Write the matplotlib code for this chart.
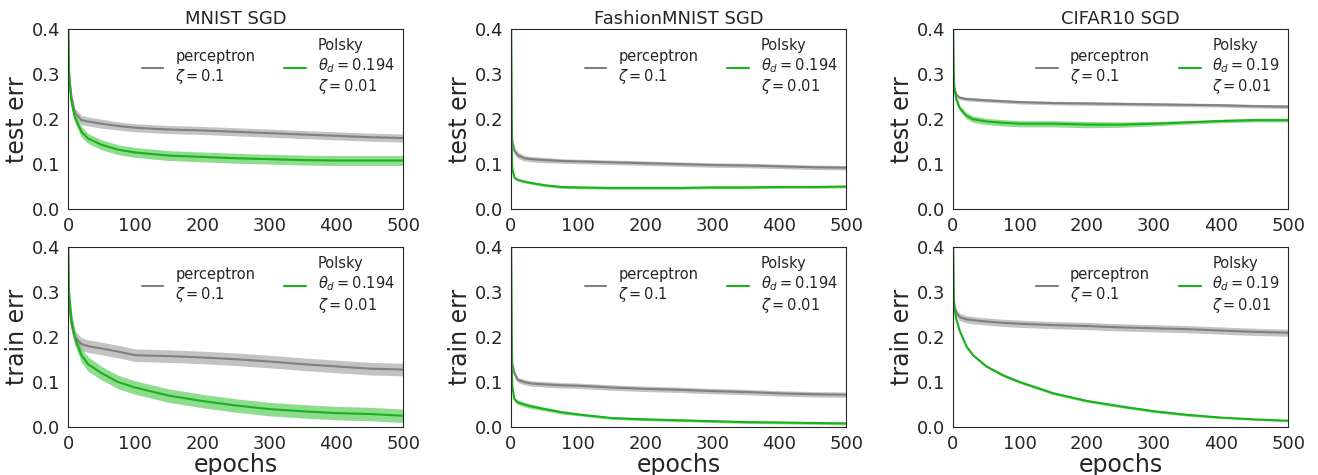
import matplotlib
matplotlib.use("Agg")
import matplotlib.pyplot as plt
import seaborn as sns
import numpy as np

sns.set_style("white")

epochs = [0, 1, 2, 5, 10, 20, 30, 50, 75, 100, 150, 200, 250, 300, 350, 400, 450, 500]

datasets = ["MNIST", "FashionMNIST", "CIFAR10"]
theta_d = ["0.194", "0.194", "0.19"]

# test error (mean, half band width)
mnist_test_perc = [0.45, 0.33, 0.29, 0.25, 0.215, 0.198, 0.195, 0.19, 0.185, 0.181, 0.177, 0.175, 0.172, 0.169, 0.166, 0.163, 0.160, 0.158]
mnist_test_perc_sd = [0.2, 0.02, 0.015, 0.012, 0.01, 0.01, 0.01, 0.01, 0.009, 0.009, 0.009, 0.009, 0.009, 0.009, 0.009, 0.009, 0.009, 0.009]
mnist_test_pol = [0.45, 0.33, 0.29, 0.24, 0.205, 0.172, 0.157, 0.143, 0.132, 0.126, 0.119, 0.116, 0.113, 0.111, 0.109, 0.108, 0.108, 0.108]
mnist_test_pol_sd = [0.02, 0.02, 0.015, 0.013, 0.012, 0.012, 0.011, 0.011, 0.011, 0.011, 0.011, 0.011, 0.011, 0.011, 0.011, 0.011, 0.011, 0.011]

fmnist_test_perc = [0.45, 0.2, 0.15, 0.13, 0.12, 0.113, 0.111, 0.109, 0.107, 0.106, 0.104, 0.102, 0.100, 0.098, 0.097, 0.095, 0.093, 0.092]
fmnist_test_perc_sd = [0.02, 0.01, 0.008, 0.008, 0.007, 0.006, 0.006, 0.006, 0.005, 0.005, 0.005, 0.005, 0.005, 0.005, 0.005, 0.005, 0.005, 0.005]
fmnist_test_pol = [0.45, 0.15, 0.09, 0.07, 0.065, 0.061, 0.058, 0.053, 0.049, 0.048, 0.047, 0.047, 0.047, 0.048, 0.048, 0.049, 0.049, 0.05]
fmnist_test_pol_sd = [0.01, 0.005, 0.004, 0.003, 0.003, 0.003, 0.003, 0.003, 0.003, 0.003, 0.003, 0.003, 0.003, 0.003, 0.003, 0.003, 0.003, 0.003]

cifar_test_perc = [0.45, 0.3, 0.27, 0.255, 0.248, 0.245, 0.244, 0.242, 0.240, 0.238, 0.236, 0.235, 0.234, 0.233, 0.232, 0.231, 0.229, 0.228]
cifar_test_perc_sd = [0.01, 0.005, 0.005, 0.004, 0.004, 0.004, 0.004, 0.004, 0.004, 0.004, 0.004, 0.004, 0.004, 0.004, 0.004, 0.004, 0.004, 0.004]
cifar_test_pol = [0.45, 0.3, 0.27, 0.245, 0.225, 0.208, 0.2, 0.195, 0.192, 0.19, 0.19, 0.188, 0.188, 0.19, 0.193, 0.196, 0.198, 0.198]
cifar_test_pol_sd = [0.01, 0.006, 0.006, 0.006, 0.006, 0.007, 0.007, 0.007, 0.007, 0.007, 0.007, 0.007, 0.006, 0.005, 0.004, 0.004, 0.004, 0.004]

# train error
mnist_train_perc = [0.45, 0.3, 0.27, 0.23, 0.2, 0.185, 0.18, 0.175, 0.168, 0.16, 0.158, 0.155, 0.151, 0.146, 0.14, 0.135, 0.13, 0.128]
mnist_train_perc_sd = [0.2, 0.02, 0.018, 0.016, 0.015, 0.014, 0.014, 0.014, 0.014, 0.014, 0.014, 0.014, 0.014, 0.014, 0.014, 0.014, 0.014, 0.014]
mnist_train_pol = [0.45, 0.31, 0.29, 0.24, 0.2, 0.16, 0.14, 0.12, 0.1, 0.088, 0.07, 0.058, 0.048, 0.04, 0.035, 0.031, 0.029, 0.025]
mnist_train_pol_sd = [0.02, 0.02, 0.02, 0.018, 0.017, 0.016, 0.016, 0.015, 0.015, 0.015, 0.015, 0.015, 0.015, 0.015, 0.015, 0.015, 0.015, 0.015]

fmnist_train_perc = [0.45, 0.2, 0.14, 0.12, 0.105, 0.1, 0.097, 0.095, 0.093, 0.092, 0.088, 0.085, 0.083, 0.08, 0.078, 0.075, 0.073, 0.072]
fmnist_train_perc_sd = [0.02, 0.01, 0.008, 0.007, 0.006, 0.006, 0.006, 0.006, 0.006, 0.006, 0.006, 0.006, 0.006, 0.006, 0.006, 0.006, 0.006, 0.006]
fmnist_train_pol = [0.45, 0.15, 0.09, 0.062, 0.055, 0.05, 0.046, 0.04, 0.033, 0.028, 0.02, 0.017, 0.015, 0.013, 0.011, 0.01, 0.009, 0.008]
fmnist_train_pol_sd = [0.01, 0.006, 0.005, 0.005, 0.005, 0.005, 0.005, 0.004, 0.004, 0.003, 0.003, 0.003, 0.003, 0.003, 0.003, 0.003, 0.003, 0.003]

cifar_train_perc = [0.45, 0.3, 0.27, 0.255, 0.245, 0.24, 0.238, 0.235, 0.232, 0.23, 0.227, 0.225, 0.222, 0.22, 0.218, 0.215, 0.212, 0.21]
cifar_train_perc_sd = [0.01, 0.008, 0.008, 0.008, 0.008, 0.008, 0.008, 0.008, 0.008, 0.008, 0.008, 0.008, 0.008, 0.008, 0.008, 0.008, 0.008, 0.008]
cifar_train_pol = [0.45, 0.3, 0.27, 0.24, 0.215, 0.18, 0.16, 0.135, 0.115, 0.1, 0.075, 0.058, 0.046, 0.035, 0.027, 0.021, 0.017, 0.014]
cifar_train_pol_sd = [0.01, 0.004, 0.004, 0.004, 0.004, 0.004, 0.003, 0.003, 0.003, 0.003, 0.003, 0.003, 0.003, 0.003, 0.003, 0.002, 0.002, 0.002]

test_rows = [
    (mnist_test_perc, mnist_test_perc_sd, mnist_test_pol, mnist_test_pol_sd),
    (fmnist_test_perc, fmnist_test_perc_sd, fmnist_test_pol, fmnist_test_pol_sd),
    (cifar_test_perc, cifar_test_perc_sd, cifar_test_pol, cifar_test_pol_sd),
]
train_rows = [
    (mnist_train_perc, mnist_train_perc_sd, mnist_train_pol, mnist_train_pol_sd),
    (fmnist_train_perc, fmnist_train_perc_sd, fmnist_train_pol, fmnist_train_pol_sd),
    (cifar_train_perc, cifar_train_perc_sd, cifar_train_pol, cifar_train_pol_sd),
]

GRAY_LINE = "#808080"
GRAY_FILL = "#b4b4b4"
GREEN_LINE = "#1cb01c"
GREEN_FILL = "#5fcf5f"

fig = plt.figure(figsize=(13.18, 4.75), dpi=100)
lefts = [0.0516, 0.3877, 0.723]
bottoms = [0.56, 0.101]
w, h = 0.2545, 0.378

ep = np.array(epochs)
for r, rows in enumerate([test_rows, train_rows]):
    for c, (pm, ps, gm, gs) in enumerate(rows):
        ax = fig.add_axes([lefts[c], bottoms[r], w, h])
        pm, ps, gm, gs = map(np.array, (pm, ps, gm, gs))
        ax.fill_between(ep, pm - ps, pm + ps, color=GRAY_FILL, alpha=0.8, lw=0)
        ax.plot(ep, pm, color=GRAY_LINE, lw=1.5,
                label="perceptron\n$\\zeta=0.1$")
        ax.fill_between(ep, gm - gs, gm + gs, color=GREEN_FILL, alpha=0.7, lw=0)
        ax.plot(ep, gm, color=GREEN_LINE, lw=1.5,
                label="Polsky\n$\\theta_d=%s$\n$\\zeta=0.01$" % theta_d[c])
        ax.set_xlim(0, 500)
        ax.set_ylim(0, 0.4)
        ax.set_xticks([0, 100, 200, 300, 400, 500])
        ax.set_yticks([0.0, 0.1, 0.2, 0.3, 0.4])
        ax.tick_params(labelsize=13, pad=2)
        for s in ax.spines.values():
            s.set_color("#262626")
        if r == 0:
            ax.set_title(datasets[c] + " SGD", fontsize=13, pad=4)
            ax.set_ylabel("test err", fontsize=17, labelpad=2)
        else:
            ax.set_ylabel("train err", fontsize=17, labelpad=2)
            ax.set_xlabel("epochs", fontsize=17, labelpad=0)
        ax.legend(loc="upper right", ncol=2, frameon=False, fontsize=10.5,
                  handlelength=1.5, columnspacing=2.0, borderaxespad=0.2)

fig.savefig("out.png", dpi=100)
